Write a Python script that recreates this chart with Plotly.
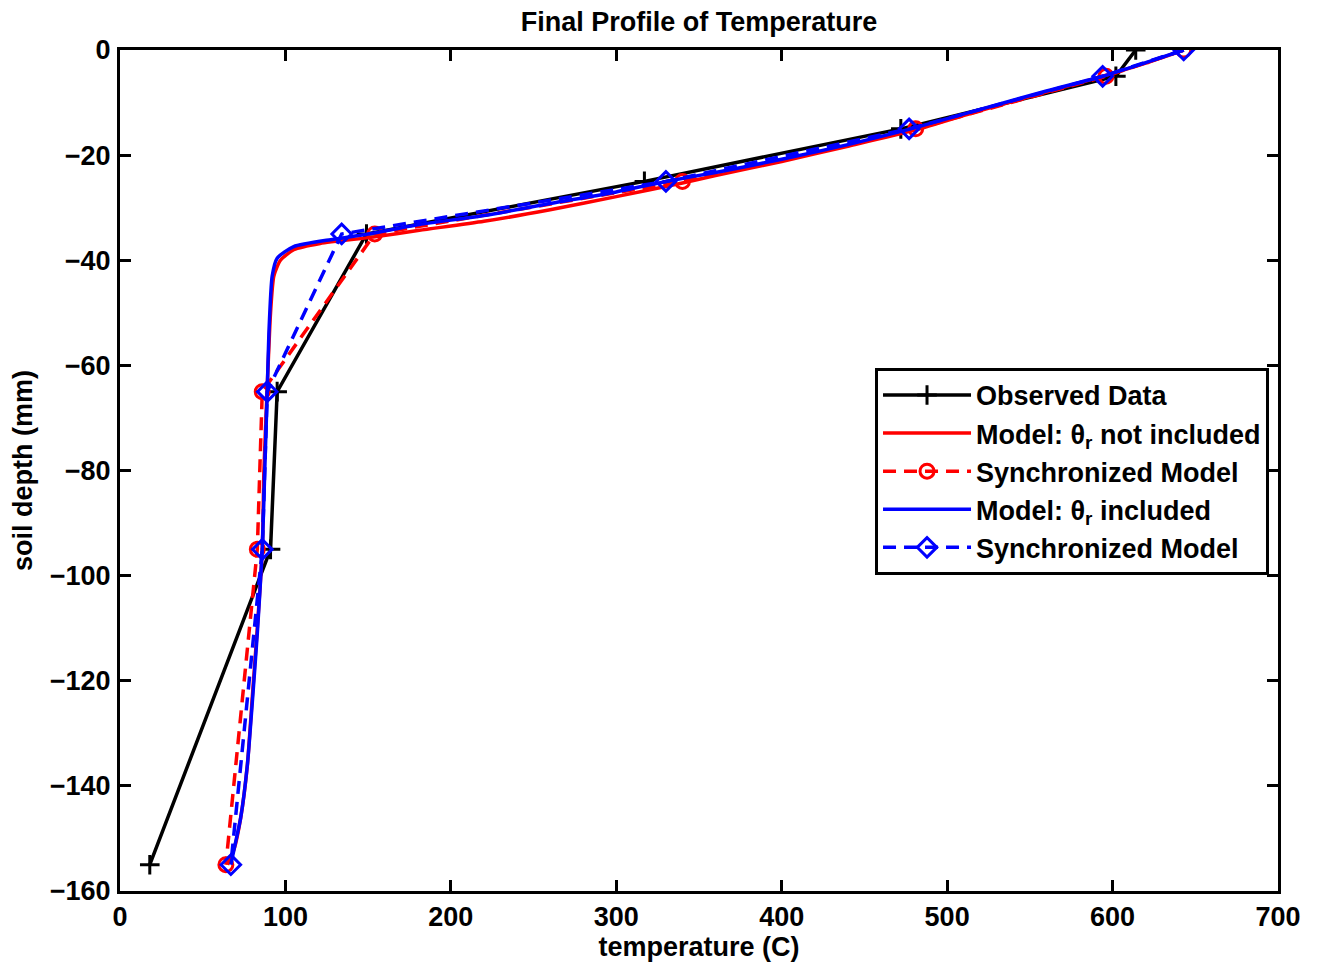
import plotly.graph_objects as go

# Observed data
obs_temp = [614, 602, 472, 317, 149, 95, 91, 18]
obs_depth = [0, -5, -15, -25, -35, -65, -95, -155]

# Synchronized model (theta_r not included) - red circles
sync_red_temp = [643, 596, 481, 340, 154, 86, 83, 64]
sync_red_depth = [0, -5, -15, -25, -35, -65, -95, -155]

# Synchronized model (theta_r included) - blue diamonds
sync_blue_temp = [643, 594, 477, 330, 134, 89, 86, 67]
sync_blue_depth = [0, -5, -15, -25, -35, -65, -95, -155]

# Continuous model: theta_r not included (red)
red_temp = [643, 620, 594, 560, 520, 481, 440, 400, 360, 340, 300, 260, 220, 181, 153,
            121, 105, 97, 93, 91, 89, 87, 86, 83, 80, 77, 73, 69, 65]
red_depth = [0, -2.5, -5, -8, -11.5, -15.2, -18.3, -21.2, -23.9, -25.3, -27.9, -30.4, -32.6,
             -34.3, -35.6, -36.8, -38.0, -40, -43, -50, -64, -80, -95, -110, -123, -136,
             -146, -152, -155]

# Continuous model: theta_r included (blue)
blue_temp = [643, 620, 594, 560, 520, 478, 440, 400, 360, 330, 300, 260, 220, 181, 150,
             129, 105, 95, 92, 90, 89, 87.5, 86, 83, 80, 77, 73, 69, 67]
blue_depth = [0, -2.4, -5, -7.8, -11.3, -15, -18.0, -20.8, -23.3, -25, -27, -29.2, -31.5,
              -33.2, -35.0, -36.0, -37.4, -39.6, -43, -54, -65, -80, -95, -111, -124,
              -136, -146, -152, -155]

FONT = "Liberation Sans, Arial, Helvetica, sans-serif"
FS = 27
LW = 3.5

fig = go.Figure()
fig.add_trace(go.Scatter(
    x=obs_temp, y=obs_depth, mode="lines+markers", name="Observed Data",
    line=dict(color="black", width=LW),
    marker=dict(symbol="cross-thin-open", size=14, line=dict(color="black", width=3)),
))
fig.add_trace(go.Scatter(
    x=red_temp, y=red_depth, mode="lines", name="Model: θ<sub>r</sub> not included",
    line=dict(color="#ff0000", width=LW, shape="spline", smoothing=0.6),
))
fig.add_trace(go.Scatter(
    x=sync_red_temp, y=sync_red_depth, mode="lines+markers", name="Synchronized Model",
    line=dict(color="#ff0000", width=LW, dash="13px,8px"),
    marker=dict(symbol="circle-open", size=14, color="#ff0000", line=dict(color="#ff0000", width=3)),
))
fig.add_trace(go.Scatter(
    x=blue_temp, y=blue_depth, mode="lines", name="Model: θ<sub>r</sub> included",
    line=dict(color="#0000ff", width=LW, shape="spline", smoothing=0.6),
))
fig.add_trace(go.Scatter(
    x=sync_blue_temp, y=sync_blue_depth, mode="lines+markers", name="Synchronized Model",
    line=dict(color="#0000ff", width=LW, dash="13px,8px"),
    marker=dict(symbol="diamond-open", size=15, color="#0000ff", line=dict(color="#0000ff", width=3)),
))

axis_common = dict(
    showline=True, linecolor="black", linewidth=3, mirror="ticks",
    ticks="inside", ticklen=11, tickwidth=3, tickcolor="black",
    showgrid=False, zeroline=False,
    tickfont=dict(family=FONT, size=FS, color="black", weight="bold"),
)

fig.update_layout(
    width=1320, height=970,
    paper_bgcolor="white", plot_bgcolor="white",
    margin=dict(l=112, r=50, t=42, b=87),
    font=dict(family=FONT, color="black"),
    title=dict(text="Final Profile of Temperature", x=0.5, xanchor="center",
               xref="paper", y=1, yref="paper", yanchor="bottom",
               pad=dict(b=19),
               font=dict(family=FONT, size=FS, color="black", weight="bold")),
    xaxis=dict(range=[0, 700], dtick=100, tick0=0, ticklabelstandoff=0,
               title=dict(text="temperature (C)", standoff=4,
                          font=dict(family=FONT, size=FS, color="black", weight="bold")),
               **axis_common),
    yaxis=dict(range=[-160, 0], dtick=20, tick0=0, ticklabelstandoff=1,
               title=dict(text="soil depth (mm)", standoff=12,
                          font=dict(family=FONT, size=FS, color="black", weight="bold")),
               **axis_common),
    legend=dict(x=0.652, y=0.622, xanchor="left", yanchor="top",
                bgcolor="white", bordercolor="black", borderwidth=3,
                itemwidth=88, tracegroupgap=0,
                font=dict(family=FONT, size=FS, color="black", weight="bold")),
    hovermode=False,
)

fig.write_html("out.html")
